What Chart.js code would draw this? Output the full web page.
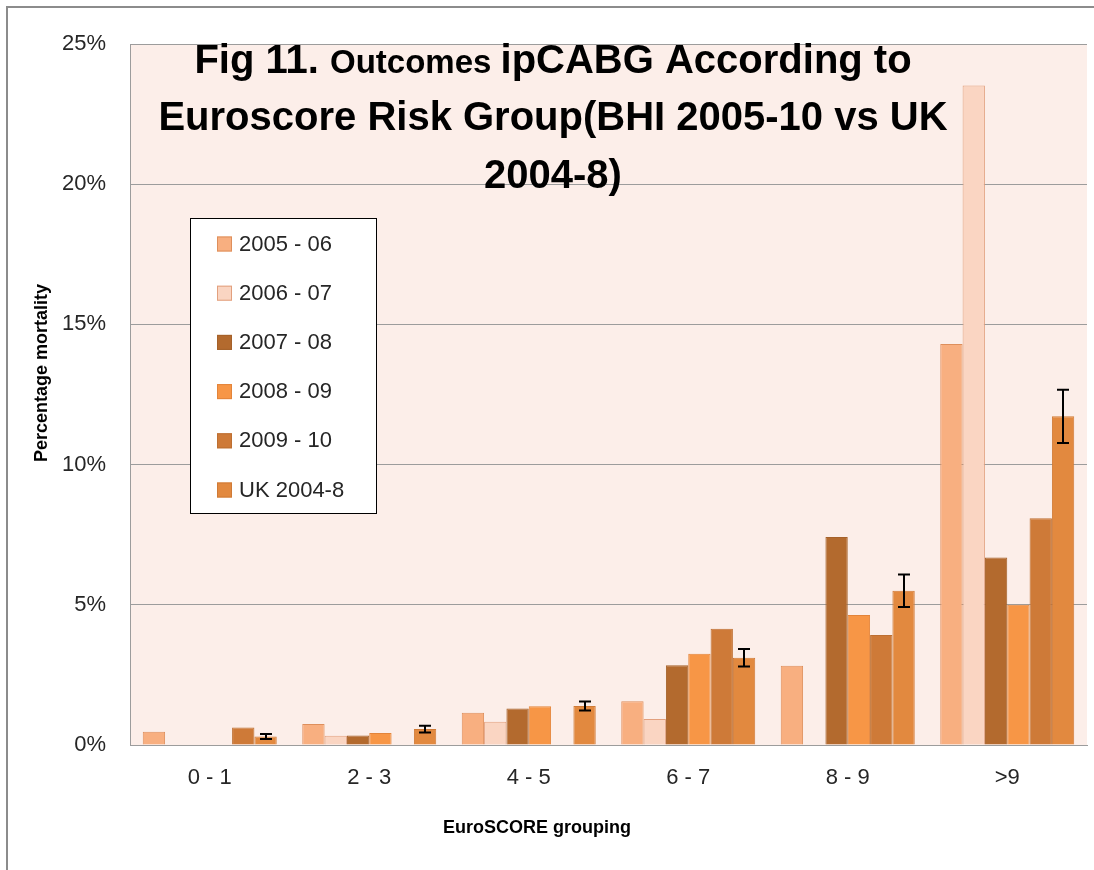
<!DOCTYPE html>
<html>
<head>
<meta charset="utf-8">
<script src="https://cdn.jsdelivr.net/npm/chart.js@4.4.0/dist/chart.umd.min.js"></script>
<style>
  html, body { margin: 0; padding: 0; background: #fff; }
  #contenedor { width: 1094px; height: 870px; }
</style>
</head>
<body>
<div id="contenedor"><canvas id="graficaEuroscore" width="1094" height="870"></canvas></div>
<script>
// Grupos EuroSCORE y periodos
const grupos = ['0 - 1', '2 - 3', '4 - 5', '6 - 7', '8 - 9', '>9'];
const periodos = ['2005 - 06', '2006 - 07', '2007 - 08', '2008 - 09', '2009 - 10', 'UK 2004-8'];

// Mortalidad (%) por periodo; null = sin barra
const mort0506 = [0.47, 0.75, 1.15, 1.56, 2.83, 14.3];
const mort0607 = [null, 0.33, 0.83, 0.93, null, 23.52];
const mort0708 = [null, 0.34, 1.30, 2.84, 7.42, 6.69];
const mort0809 = [null, 0.43, 1.38, 3.25, 4.64, 5.0];
const mort0910 = [0.62, null, null, 4.15, 3.92, 8.09];
const mortUK = [0.30, 0.57, 1.39, 3.11, 5.50, 11.72];
const errorUK = [0.09, 0.12, 0.16, 0.31, 0.58, 0.95];

const ticksY = [0, 5, 10, 15, 20, 25];

const rellenos = ['#F8AF80', '#FAD5C2', '#B36A2E', '#F79646', '#CE7A38', '#E2893F'];
const bordes = ['#DE8F5C', '#E2A07E', '#A5612A', '#E3843A', '#BD6F32', '#CF7A36'];

const FUENTE = "'Liberation Sans', Arial, sans-serif";
Chart.defaults.font.family = FUENTE;

const series = [mort0506, mort0607, mort0708, mort0809, mort0910, mortUK];

// Fondo del área de trazado y marco exterior
const fondo = {
  id: 'fondo',
  beforeDraw(chart) {
    const { ctx, chartArea: a } = chart;
    ctx.save();
    ctx.fillStyle = '#fff';
    ctx.fillRect(0, 0, chart.width, chart.height);
    ctx.fillStyle = '#FCEEE9';
    ctx.fillRect(a.left, a.top, a.right - a.left, a.bottom - a.top);
    ctx.strokeStyle = '#8c8c8c';
    ctx.lineWidth = 2;
    ctx.beginPath();
    ctx.moveTo(7, chart.height);
    ctx.lineTo(7, 7);
    ctx.lineTo(chart.width, 7);
    ctx.stroke();
    ctx.restore();
  }
};

// Barras de error para la serie UK
const barrasError = {
  id: 'barrasError',
  afterDatasetsDraw(chart) {
    const { ctx } = chart;
    const y = chart.scales.y;
    const meta = chart.getDatasetMeta(5);
    ctx.save();
    ctx.strokeStyle = '#000';
    ctx.lineWidth = 2;
    meta.data.forEach((barra, i) => {
      const v = mortUK[i];
      if (v == null) return;
      const yAlto = y.getPixelForValue(v + errorUK[i]);
      const yBajo = y.getPixelForValue(v - errorUK[i]);
      const x = Math.round(barra.x);
      ctx.beginPath();
      ctx.moveTo(x, yAlto);
      ctx.lineTo(x, yBajo);
      ctx.moveTo(x - 6, yAlto);
      ctx.lineTo(x + 6, yAlto);
      ctx.moveTo(x - 6, yBajo);
      ctx.lineTo(x + 6, yBajo);
      ctx.stroke();
    });
    ctx.restore();
  }
};

// Leyenda, títulos de ejes y título principal
const textos = {
  id: 'textos',
  afterDraw(chart) {
    const { ctx } = chart;
    ctx.save();

    // Leyenda
    ctx.fillStyle = '#fff';
    ctx.fillRect(190, 218, 187, 296);
    ctx.strokeStyle = '#000';
    ctx.lineWidth = 1;
    ctx.strokeRect(190.5, 218.5, 186, 295);
    ctx.font = '22px ' + FUENTE;
    ctx.textBaseline = 'middle';
    ctx.textAlign = 'left';
    periodos.forEach((p, i) => {
      const yc = 243.5 + i * 49.2;
      ctx.fillStyle = rellenos[i];
      ctx.fillRect(217, yc - 7, 15, 15);
      ctx.strokeStyle = bordes[i];
      ctx.strokeRect(217.5, yc - 6.5, 14, 14);
      ctx.fillStyle = '#262626';
      ctx.fillText(p, 239, yc + 1);
    });

    // Títulos de ejes
    ctx.fillStyle = '#000';
    ctx.font = 'bold 18px ' + FUENTE;
    ctx.textAlign = 'center';
    ctx.fillText('EuroSCORE grouping', 537, 828);
    ctx.save();
    ctx.translate(42, 373);
    ctx.rotate(-Math.PI / 2);
    ctx.fillText('Percentage mortality', 0, 0);
    ctx.restore();

    // Título principal (primera línea con tamaños mezclados)
    ctx.textBaseline = 'alphabetic';
    ctx.textAlign = 'left';
    const partes = [
      ['Fig 11. ', 'bold 40px ' + FUENTE],
      ['Outcomes ', 'bold 33px ' + FUENTE],
      ['ipCABG According to', 'bold 40px ' + FUENTE]
    ];
    let total = 0;
    partes.forEach(([t, f]) => { ctx.font = f; total += ctx.measureText(t).width; });
    let x = 553 - total / 2;
    partes.forEach(([t, f]) => {
      ctx.font = f;
      ctx.fillText(t, x, 73);
      x += ctx.measureText(t).width;
    });
    ctx.font = 'bold 40px ' + FUENTE;
    ctx.textAlign = 'center';
    ctx.fillText('Euroscore Risk Group(BHI 2005-10 vs UK', 553, 130);
    ctx.fillText('2004-8)', 553, 188);
    ctx.restore();
  }
};

function crearGrafica(idCanvas) {
  const ctx = document.getElementById(idCanvas).getContext('2d');
  new Chart(ctx, {
    type: 'bar',
    data: {
      labels: grupos,
      datasets: series.map((datos, i) => ({
        label: periodos[i],
        data: datos,
        backgroundColor: rellenos[i],
        borderColor: bordes[i],
        borderWidth: 1,
        categoryPercentage: 0.84,
        barPercentage: 1
      }))
    },
    options: {
      responsive: false,
      animation: false,
      layout: { padding: { top: 44, right: 7, left: 0, bottom: 0 } },
      plugins: {
        legend: { display: false },
        tooltip: { enabled: false },
        title: { display: false }
      },
      scales: {
        x: {
          grid: { display: false, drawTicks: false },
          border: { display: true, color: '#9c9c9c', width: 1 },
          ticks: { color: '#262626', font: { size: 22 }, padding: 20 },
          afterFit: (escala) => { escala.height = 125; }
        },
        y: {
          min: 0,
          max: 25,
          afterBuildTicks: (escala) => { escala.ticks = ticksY.map(v => ({ value: v })); },
          grid: { color: '#9c9c9c', lineWidth: 1, drawTicks: false },
          border: { display: true, color: '#9c9c9c', width: 1 },
          ticks: {
            color: '#262626',
            font: { size: 22 },
            padding: 24,
            callback: (v) => v + '%'
          },
          afterFit: (escala) => { escala.width = 130; }
        }
      }
    },
    plugins: [fondo, barrasError, textos]
  });
}

document.addEventListener('DOMContentLoaded', () => crearGrafica('graficaEuroscore'));
</script>
</body>
</html>
